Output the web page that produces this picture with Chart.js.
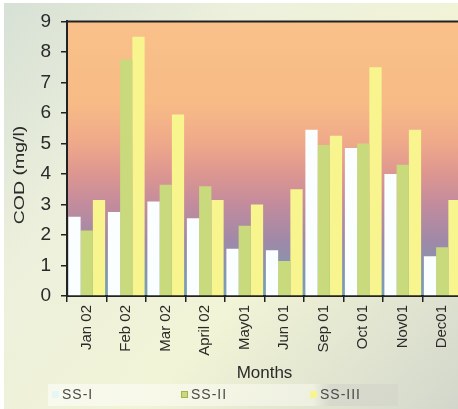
<!DOCTYPE html>
<html>
<head>
<meta charset="utf-8">
<script src="https://cdn.jsdelivr.net/npm/chart.js@4"></script>
<style>
  html, body { margin: 0; padding: 0; width: 458px; height: 409px; overflow: hidden; background: #fff; }
  canvas { display: block; }
</style>
</head>
<body>
<canvas id="cod" width="470" height="409"></canvas>
<script>
// Monthly COD readings at the three sampling stations
const months = ['Jan 02', 'Feb 02', 'Mar 02', 'April 02', 'May01', 'Jun 01', 'Sep 01', 'Oct 01', 'Nov01', 'Dec01'];
const seriesNames = ['SS-I', 'SS-II', 'SS-III'];
const ss1 = [2.6, 2.75, 3.1, 2.55, 1.55, 1.5, 5.45, 4.85, 4.0, 1.3];
const ss2 = [2.15, 7.75, 3.65, 3.6, 2.3, 1.15, 4.95, 5.0, 4.3, 1.6];
const ss3 = [3.15, 8.5, 5.95, 3.15, 3.0, 3.5, 5.25, 7.5, 5.45, 3.15];
const yTicks = [0, 1, 2, 3, 4, 5, 6, 7, 8, 9];
const yTitle = 'COD (mg/l)';
const xTitle = 'Months';

const barColors = ['#fbfefe', '#c8da7c', '#f8f58e'];
const ink = '#222';
const FONT = 'Arial, "Liberation Sans", sans-serif';

// Panel, plot-area wash and frame drawn behind the bars
const backdrop = {
  id: 'backdrop',
  beforeDraw(chart) {
    const { ctx, width, height, chartArea: a } = chart;
    ctx.save();
    ctx.fillStyle = '#ffffff';
    ctx.fillRect(0, 0, width, height);
    const pg = ctx.createLinearGradient(0, 0, width, height);
    pg.addColorStop(0, '#d6e0d5');
    pg.addColorStop(0.3, '#edf0dc');
    pg.addColorStop(0.6, '#f1f4d6');
    pg.addColorStop(1, '#d2d6cb');
    ctx.fillStyle = pg;
    ctx.fillRect(4, 3, width - 4, height - 3);

    const g = ctx.createLinearGradient(0, a.top, 0, a.bottom);
    g.addColorStop(0, '#f9c189');
    g.addColorStop(0.3, '#f7bb86');
    g.addColorStop(0.44, '#efa98a');
    g.addColorStop(0.55, '#de9790');
    g.addColorStop(0.66, '#c48c9c');
    g.addColorStop(0.8, '#9f89a8');
    g.addColorStop(0.91, '#8396b0');
    g.addColorStop(1, '#78a0b4');
    ctx.fillStyle = g;
    ctx.fillRect(a.left, a.top, a.right - a.left, a.bottom - a.top);
    ctx.restore();
  },
  afterDraw(chart) {
    const { ctx, chartArea: a } = chart;
    ctx.save();
    // top frame line
    ctx.strokeStyle = ink;
    ctx.lineWidth = 2;
    ctx.beginPath();
    ctx.moveTo(a.left, a.top);
    ctx.lineTo(a.right, a.top);
    ctx.stroke();

    // rotated y-axis title, slightly stretched along its length
    ctx.fillStyle = '#2a2a2a';
    ctx.font = '15px ' + FONT;
    ctx.textAlign = 'center';
    ctx.textBaseline = 'middle';
    ctx.translate(20, 175);
    ctx.rotate(-Math.PI / 2);
    ctx.scale(1.3, 1);
    ctx.fillText(yTitle, 0, 0);
    ctx.restore();

    // legend strip
    ctx.save();
    const lg = ctx.createLinearGradient(50, 0, 400, 0);
    lg.addColorStop(0, 'rgba(255,255,255,0.55)');
    lg.addColorStop(0.75, 'rgba(250,250,240,0.5)');
    lg.addColorStop(0.8, 'rgba(205,208,200,0.5)');
    lg.addColorStop(1, 'rgba(205,208,200,0.4)');
    ctx.fillStyle = lg;
    ctx.fillRect(48, 384, 350, 22);
    ctx.font = '14px ' + FONT;
    ctx.textBaseline = 'middle';
    ctx.textAlign = 'left';
    ctx.letterSpacing = '1px';
    chart.data.datasets.forEach((ds, i) => {
      const x = 52 + i * 129;
      const y = 395;
      ctx.fillStyle = i === 0 ? '#e4f6f6' : ds.backgroundColor;
      ctx.fillRect(x, y - 4, 7, 7);
      if (i === 1) {
        ctx.strokeStyle = '#a8b050';
        ctx.lineWidth = 1;
        ctx.strokeRect(x + 0.5, y - 3.5, 6, 6);
      }
      ctx.fillStyle = '#4a4a4a';
      ctx.fillText(ds.label, x + 10, y);
    });
    ctx.restore();
  }
};

new Chart(document.getElementById('cod'), {
  type: 'bar',
  data: {
    labels: months,
    datasets: [ss1, ss2, ss3].map((vals, i) => ({
      label: seriesNames[i],
      data: vals,
      backgroundColor: barColors[i],
      borderWidth: 0,
      categoryPercentage: 0.93,
      barPercentage: 1.0
    }))
  },
  options: {
    responsive: false,
    animation: false,
    devicePixelRatio: 1,
    layout: { padding: { top: 17, right: 8, bottom: 0, left: 0 } },
    plugins: { legend: { display: false }, tooltip: { enabled: false } },
    scales: {
      x: {
        afterFit(scale) { scale.height = 113; },
        border: { display: true, color: ink, width: 2 },
        grid: { display: true, drawOnChartArea: false, drawTicks: true, tickLength: 6, color: ink, lineWidth: 1.5 },
        ticks: {
          autoSkip: false,
          minRotation: 90,
          maxRotation: 90,
          padding: 3,
          color: '#2a2a2a',
          font: { family: FONT, size: 15 }
        },
        title: {
          display: true,
          text: xTitle,
          color: '#2a2a2a',
          font: { family: FONT, size: 17 },
          padding: { top: 0, bottom: 25 }
        }
      },
      y: {
        min: 0,
        max: 9,
        afterFit(scale) { scale.width = 67; },
        afterBuildTicks(scale) { scale.ticks = yTicks.map(v => ({ value: v })); },
        border: { display: true, color: ink, width: 2 },
        grid: { display: true, drawOnChartArea: false, drawTicks: true, tickLength: 6, color: ink, lineWidth: 1.5 },
        ticks: {
          padding: 10,
          color: '#2a2a2a',
          font: { family: FONT, size: 19 }
        }
      }
    }
  },
  plugins: [backdrop]
});
</script>
</body>
</html>
